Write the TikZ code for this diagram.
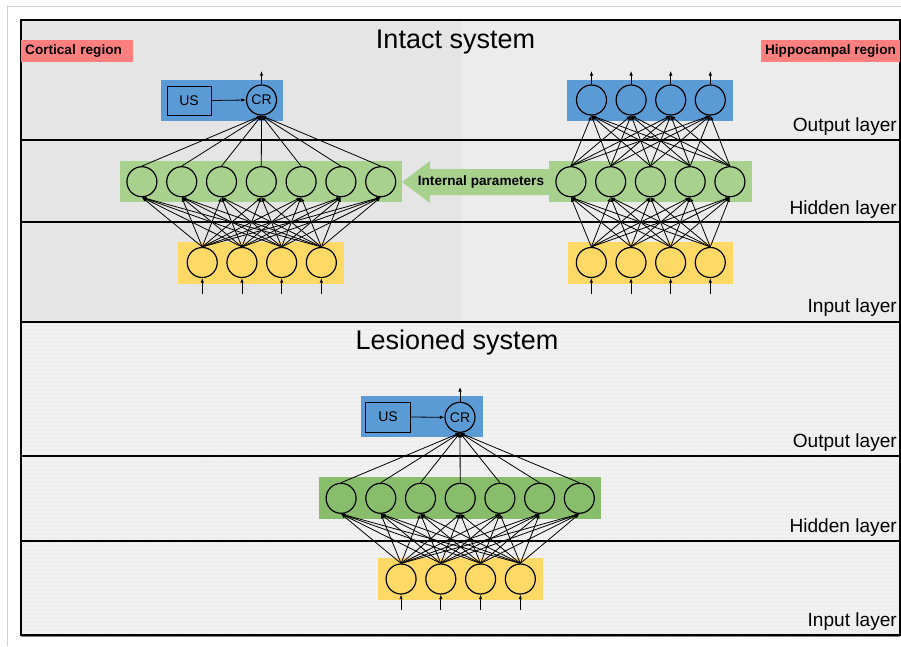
\documentclass[tikz,border=0pt]{standalone}
\usepackage{fontspec}
\setmainfont{Liberation Sans}
\usetikzlibrary{arrows.meta,patterns.meta}

\definecolor{bgleft}{HTML}{E5E5E5}
\definecolor{bgright}{HTML}{ECECEC}
\definecolor{bglow}{HTML}{F1F1F1}
\definecolor{dotgray}{HTML}{D6D6D6}
\definecolor{cblue}{HTML}{5B9BD5}
\definecolor{cgreenA}{HTML}{A9D18E}
\definecolor{cgreenB}{HTML}{88BE6B}
\definecolor{cyellow}{HTML}{FFD966}
\definecolor{csalmon}{HTML}{FF7F7F}
\definecolor{framegray}{HTML}{D0D0D0}

% fine dot texture for the lower panel
\tikzdeclarepattern{
  name=finedots,
  type=uncolored,
  bounding box={(-1pt,-1pt) and (1pt,1pt)},
  tile size={(3pt,4pt)},
  code={\fill (0pt,0pt) circle (0.5pt);}
}

\begin{document}
\begin{tikzpicture}[x=1pt,y=-1pt,
  unit/.style={circle, draw, line width=1.2pt, minimum size=30pt, inner sep=0pt},
  band/.style={rectangle, inner sep=0pt, draw=none},
  link/.style={line width=0.8pt, -{Latex[length=4.5pt,width=3.5pt]}},
  sepline/.style={line width=1.4pt},
  layerlbl/.style={anchor=base east, inner sep=0pt, font=\fontsize{19.1}{21}\selectfont},
  titlelbl/.style={anchor=base, inner sep=0pt, font=\fontsize{27}{29}\selectfont},
  regionlbl/.style={fill=csalmon, inner sep=0pt, minimum height=22pt, font=\bfseries\fontsize{13.6}{15}\selectfont},
  usbox/.style={rectangle, draw, line width=0.9pt, minimum width=44pt, minimum height=29pt, inner sep=0pt, font=\fontsize{14}{15}\selectfont},
  crunit/.style={unit, font=\fontsize{14}{15}\selectfont}
]
\useasboundingbox (0,0) rectangle (901,646);
\fill[white] (0,0) rectangle (901,646);
\draw[framegray, line width=1pt] (7,646) -- (7,6) -- (901,6);

% panel backgrounds
\fill[bgleft] (21,20) rectangle (462,322);
\fill[bgright] (462,20) rectangle (900,322);
\fill[bglow] (21,322) rectangle (900,635);
\fill[pattern=finedots, pattern color=dotgray] (21,322) rectangle (900,635);

% layer separators and frame
\draw[sepline] (21,140) -- (900,140);
\draw[sepline] (21,222) -- (900,222);
\draw[line width=2.2pt] (21,322) -- (900,322);
\draw[sepline] (21,456) -- (900,456);
\draw[sepline] (21,541) -- (900,541);
\draw[gray, line width=1pt] (21,636.8) -- (900,636.8);
\draw[line width=1.6pt] (21,20) rectangle (900,635);

% titles and labels
\node[titlelbl] (tintact) at (455.5,48) {Intact system};
\node[titlelbl] (tlesion) at (457,349) {Lesioned system};
\node[regionlbl, anchor=west, text width=104pt, inner xsep=4pt, align=left] (cort) at (21,51) {Cortical region};
\node[regionlbl, minimum width=139pt] (hipp) at (830.5,51) {Hippocampal region};

\node[layerlbl] (lo1) at (897,131) {Output layer};
\node[layerlbl] (lh1) at (897,214.5) {Hidden layer};
\node[layerlbl] (li1) at (897,312.5) {Input layer};
\node[layerlbl] (lo2) at (897,447) {Output layer};
\node[layerlbl] (lh2) at (897,532) {Hidden layer};
\node[layerlbl] (li2) at (897,626) {Input layer};

% ---------- cortical network (intact) ----------
\node[band, fill=cblue, minimum width=122pt, minimum height=41pt] (cOutBand) at (222,100.5) {};
\node[band, fill=cgreenA, minimum width=282pt, minimum height=41pt] (cHidBand) at (261,181.5) {};
\node[band, fill=cyellow, minimum width=166pt, minimum height=42pt] (cInBand) at (261,263) {};

\node[usbox] (cus) at (189,100.5) {US};
\node[crunit] (ccr) at (261.5,100) {CR};
\foreach \j in {1,...,7} \node[unit] (ch\j) at ({261.3+39.8*(\j-4)},181.7) {};
\foreach \i in {1,...,4} {
  \node[unit] (ci\i) at ({261.8+39.7*(\i-2.5)},262.5) {};
  \coordinate (cin\i) at ({261.8+39.7*(\i-2.5)},294);
}
\coordinate (cout) at (261.5,71);

\draw[link] (cus.east) -- (ccr.west);
\draw[link] (ccr.north) -- (cout);
\foreach \j in {1,...,7} \draw[link] (ch\j.north) -- (ccr.south);
\foreach \i in {1,...,4} {
  \draw[link] (cin\i) -- (ci\i.south);
  \foreach \j in {1,...,7} \draw[link] (ci\i.north) -- (ch\j.south);
}

% ---------- transfer of internal parameters ----------
\fill[cgreenA] (549,169) -- (430,169) -- (430,161) -- (402,182) -- (430,203) -- (430,195) -- (549,195) -- cycle;
\node[inner sep=0pt, font=\bfseries\fontsize{13.6}{15}\selectfont] (iparam) at (481,182) {Internal parameters};

% ---------- hippocampal network ----------
\node[band, fill=cblue, minimum width=166pt, minimum height=41pt] (hOutBand) at (650,100.5) {};
\node[band, fill=cgreenA, minimum width=203pt, minimum height=41pt] (hHidBand) at (650.5,181.5) {};
\node[band, fill=cyellow, minimum width=165pt, minimum height=42pt] (hInBand) at (650.5,263) {};

\foreach \k in {1,...,4} {
  \node[unit] (ho\k) at ({650.9+39.6*(\k-2.5)},100) {};
  \coordinate (hout\k) at ({650.9+39.6*(\k-2.5)},71);
}
\foreach \j in {1,...,5} \node[unit] (hh\j) at ({650.4+39.75*(\j-3)},181.7) {};
\foreach \i in {1,...,4} {
  \node[unit] (hi\i) at ({650.8+39.65*(\i-2.5)},262.5) {};
  \coordinate (hin\i) at ({650.8+39.65*(\i-2.5)},294);
}
\foreach \k in {1,...,4} {
  \draw[link] (ho\k.north) -- (hout\k);
  \foreach \j in {1,...,5} \draw[link] (hh\j.north) -- (ho\k.south);
}
\foreach \i in {1,...,4} {
  \draw[link] (hin\i) -- (hi\i.south);
  \foreach \j in {1,...,5} \draw[link] (hi\i.north) -- (hh\j.south);
}

% ---------- lesioned system ----------
\node[band, fill=cblue, minimum width=122pt, minimum height=41pt] (lOutBand) at (421.7,416.5) {};
\node[band, fill=cgreenB, minimum width=282pt, minimum height=42pt] (lHidBand) at (460,498) {};
\node[band, fill=cyellow, minimum width=165pt, minimum height=42pt] (lInBand) at (460,579) {};

\node[usbox, minimum width=45pt, minimum height=30pt] (lus) at (388,417) {US};
\node[crunit] (lcr) at (460,417.3) {CR};
\foreach \j in {1,...,7} \node[unit] (lh\j) at ({460.2+39.7*(\j-4)},498.3) {};
\foreach \i in {1,...,4} {
  \node[unit] (li\i) at ({460.7+39.75*(\i-2.5)},579) {};
  \coordinate (lin\i) at ({460.7+39.75*(\i-2.5)},610);
}
\coordinate (lout) at (460,387);

\draw[link] (lus.east) -- (lcr.west);
\draw[link] (lcr.north) -- (lout);
\foreach \j in {1,...,7} \draw[link] (lh\j.north) -- (lcr.south);
\foreach \i in {1,...,4} {
  \draw[link] (lin\i) -- (li\i.south);
  \foreach \j in {1,...,7} \draw[link] (li\i.north) -- (lh\j.south);
}
\end{tikzpicture}
\end{document}
